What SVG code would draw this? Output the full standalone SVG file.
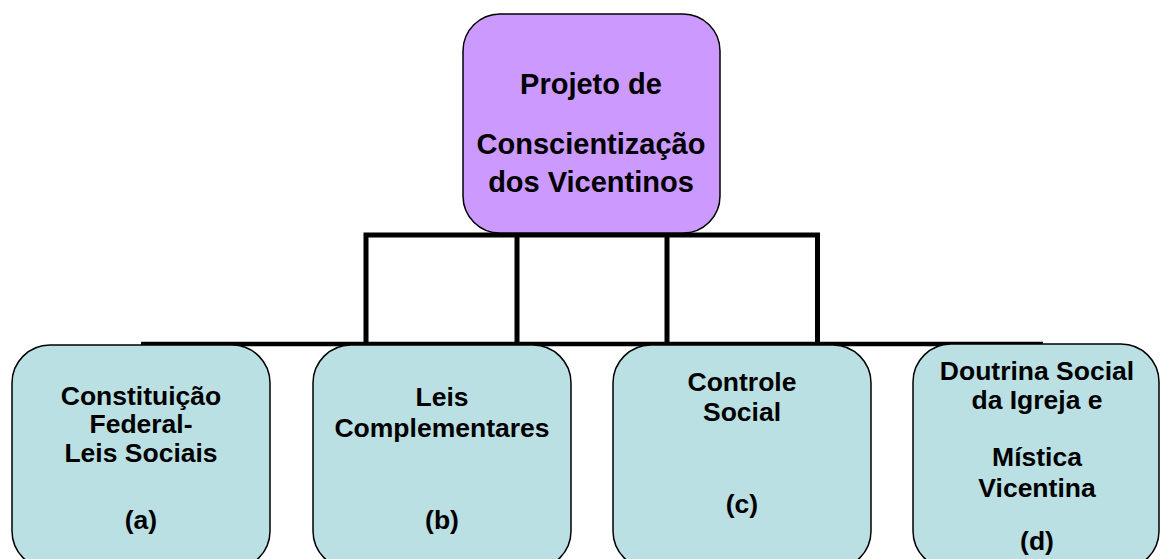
<svg xmlns="http://www.w3.org/2000/svg" width="1161" height="559" viewBox="0 0 1161 559">
<style>
.top{fill:#CC99FF;stroke:#000;stroke-width:1.5}
.box{fill:#BBE0E3;stroke:#000;stroke-width:1.5}
.conn{fill:none;stroke:#000;stroke-width:5}
.bar{fill:none;stroke:#000;stroke-width:4.5}
text{font-family:"Liberation Sans",Arial,Helvetica,sans-serif;font-weight:bold;font-size:26.5px;fill:#000;text-anchor:middle}
.tt{font-size:29px}
</style>
<rect width="1161" height="559" fill="#fff"/>
<g id="connectors">
<path class="bar" d="M141 344H1043"/>
<path class="conn" d="M366 345V235H817.5V345M517 235V345M667 235V345"/>
</g>
<g id="node-top">
<rect class="top" x="463" y="14" width="257" height="219" rx="37"/>
<text class="tt" x="591" y="93.5">Projeto de</text>
<text class="tt" x="591" y="153.5">Conscientização</text>
<text class="tt" x="591" y="191.5">dos Vicentinos</text>
</g>
<g id="node-a">
<rect class="box" x="12" y="345" width="258" height="224" rx="38"/>
<text x="141" y="405">Constituição</text>
<text x="141" y="433">Federal-</text>
<text x="141" y="462">Leis Sociais</text>
<text x="141" y="529">(a)</text>
</g>
<g id="node-b">
<rect class="box" x="313" y="345" width="258" height="224" rx="38"/>
<text x="442" y="406">Leis</text>
<text x="442" y="437">Complementares</text>
<text x="442" y="529">(b)</text>
</g>
<g id="node-c">
<rect class="box" x="613" y="345" width="258" height="224" rx="38"/>
<text x="742" y="391">Controle</text>
<text x="742" y="421">Social</text>
<text x="742" y="513">(c)</text>
</g>
<g id="node-d">
<rect class="box" x="913" y="344" width="246" height="225" rx="38"/>
<text x="1037" y="380">Doutrina Social</text>
<text x="1037" y="409">da Igreja e</text>
<text x="1037" y="466">Mística</text>
<text x="1037" y="497">Vicentina</text>
<text x="1037" y="550">(d)</text>
</g>
</svg>
